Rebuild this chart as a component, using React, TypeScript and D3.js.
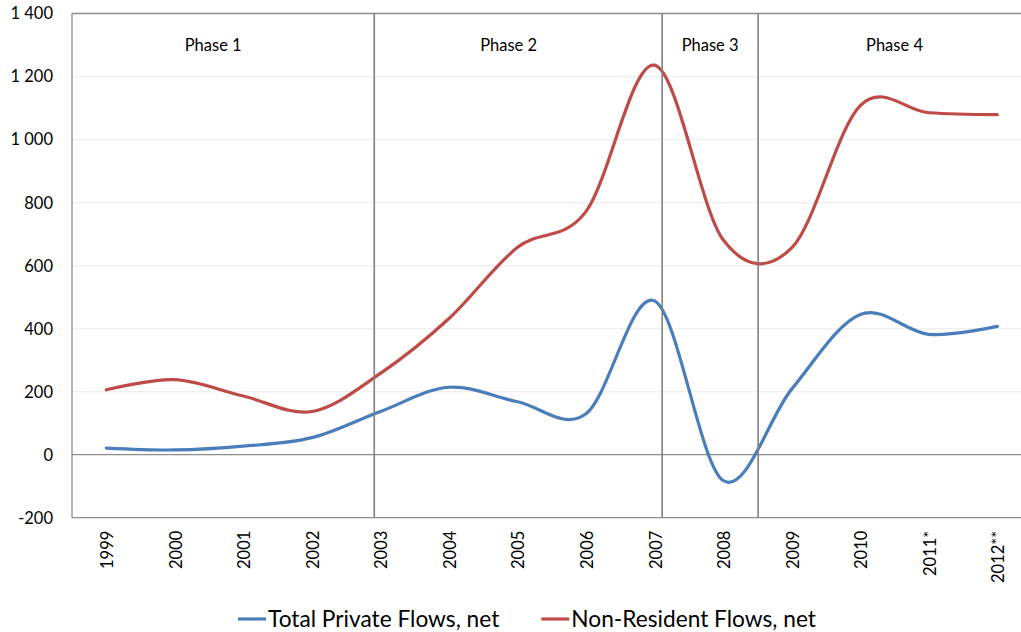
import React, { useEffect, useRef } from 'react';
import * as d3 from 'd3';

const years = ['1999', '2000', '2001', '2002', '2003', '2004', '2005', '2006', '2007', '2008', '2009', '2010', '2011*', '2012**'];
const totalPrivate = [21, 15, 27, 54, 137, 214, 168, 130, 488, -82, 208, 445, 382, 407];
const nonResident = [206, 238, 186, 137, 258, 432, 658, 772, 1236, 682, 656, 1108, 1085, 1079];
const yTicks = [-200, 0, 200, 400, 600, 800, 1000, 1200, 1400];
const phaseNames = ['Phase 1', 'Phase 2', 'Phase 3', 'Phase 4'];
const phaseLabelIndex = [1.56, 5.87, 8.81, 11.5];
const phaseBoundaryIndex = [3.91, 8.11, 9.51];
const seriesNames = ['Total Private Flows, net', 'Non-Resident Flows, net'];
const seriesColors = ['#4A7EBB', '#BE4B48'];

const W = 1021;
const H = 632;
const FONT = 'Lato, "Open Sans", sans-serif';

export default function App() {
  const ref = useRef<SVGSVGElement | null>(null);

  useEffect(() => {
    const svg = d3.select(ref.current);
    svg.selectAll('*').remove();

    const left = 72;
    const right = 1031.6;
    const top = 13.5;
    const bottom = 517.7;

    const x = d3.scaleLinear().domain([-0.5, years.length - 0.5]).range([left, right]);
    const y = d3.scaleLinear().domain([-200, 1400]).range([bottom, top]);

    const locale = d3.formatLocale({ decimal: ',', thousands: ' ', grouping: [3], currency: ['', ''], minus: '-' });
    const fmt = locale.format(',d');

    const g = svg.append('g');

    // gridlines
    g.selectAll('line.grid')
      .data(yTicks.filter((t) => t !== 0 && t !== 1400 && t !== -200))
      .enter()
      .append('line')
      .attr('x1', left)
      .attr('x2', right)
      .attr('y1', (d) => y(d))
      .attr('y2', (d) => y(d))
      .attr('stroke', '#efefef')
      .attr('stroke-width', 1.3);

    // plot border top / bottom
    g.append('line').attr('x1', left).attr('x2', right).attr('y1', y(1400)).attr('y2', y(1400)).attr('stroke', '#8c8c8c').attr('stroke-width', 1.3);
    g.append('line').attr('x1', left).attr('x2', right).attr('y1', y(-200)).attr('y2', y(-200)).attr('stroke', '#8c8c8c').attr('stroke-width', 1.3);
    // zero axis
    g.append('line').attr('x1', left).attr('x2', right).attr('y1', y(0)).attr('y2', y(0)).attr('stroke', '#8c8c8c').attr('stroke-width', 1.3);
    // left axis
    g.append('line').attr('x1', left).attr('x2', left).attr('y1', y(1400)).attr('y2', y(-200)).attr('stroke', '#8c8c8c').attr('stroke-width', 1.3);

    // y tick labels
    g.selectAll('text.ytick')
      .data(yTicks)
      .enter()
      .append('text')
      .attr('x', left - 19)
      .attr('y', (d) => y(d))
      .attr('dy', '0.36em')
      .attr('text-anchor', 'end')
      .attr('font-family', FONT)
      .attr('font-size', 16.5)
      .attr('fill', '#000')
      .text((d) => fmt(d));

    // x tick labels
    g.selectAll('text.xtick')
      .data(years)
      .enter()
      .append('text')
      .attr('transform', (d, i) => `translate(${x(i) + 1},${bottom + 13}) rotate(-90)`)
      .attr('dy', '0.36em')
      .attr('text-anchor', 'end')
      .attr('font-family', FONT)
      .attr('font-size', 16.5)
      .attr('fill', '#000')
      .text((d) => d);

    // series
    const line = d3
      .line<number>()
      .x((d, i) => x(i))
      .y((d) => y(d))
      .curve(d3.curveCardinal.tension(0));

    [totalPrivate, nonResident].forEach((s, k) => {
      g.append('path')
        .attr('d', line(s) as string)
        .attr('fill', 'none')
        .attr('stroke', seriesColors[k])
        .attr('stroke-width', 3.2)
        .attr('stroke-linecap', 'round')
        .attr('stroke-linejoin', 'round');
    });

    // phase boundaries
    g.selectAll('line.phase')
      .data(phaseBoundaryIndex)
      .enter()
      .append('line')
      .attr('x1', (d) => x(d))
      .attr('x2', (d) => x(d))
      .attr('y1', y(1400))
      .attr('y2', y(-200))
      .attr('stroke', '#808080')
      .attr('stroke-width', 1.6);

    // phase labels
    g.selectAll('text.phase')
      .data(phaseNames)
      .enter()
      .append('text')
      .attr('x', (d, i) => x(phaseLabelIndex[i]))
      .attr('y', 51)
      .attr('text-anchor', 'middle')
      .attr('font-family', FONT)
      .attr('font-size', 16.5)
      .attr('fill', '#000')
      .text((d) => d);

    // legend
    const legendY = 619;
    const symW = 28;
    const gapSym = 2;
    const gapItem = 42;
    const lg = svg.append('g');
    const texts = seriesNames.map((n) =>
      lg
        .append('text')
        .attr('font-family', FONT)
        .attr('font-size', 22.7)
        .attr('fill', '#000')
        .attr('dy', '0.36em')
        .attr('y', legendY)
        .text(n)
    );
    const widths = texts.map((t) => (t.node() as SVGTextElement).getComputedTextLength());
    const total = symW * 2 + gapSym * 2 + widths[0] + widths[1] + gapItem;
    let cx = 527 - total / 2;
    seriesNames.forEach((n, k) => {
      lg.append('line')
        .attr('x1', cx)
        .attr('x2', cx + symW)
        .attr('y1', legendY)
        .attr('y2', legendY)
        .attr('stroke', seriesColors[k])
        .attr('stroke-width', 3.2);
      texts[k].attr('x', cx + symW + gapSym);
      cx += symW + gapSym + widths[k] + gapItem;
    });
  }, []);

  return (
    <svg
      ref={ref}
      width={W}
      height={H}
      style={{ position: 'absolute', left: 0, top: 0, background: '#fff', display: 'block' }}
    />
  );
}
